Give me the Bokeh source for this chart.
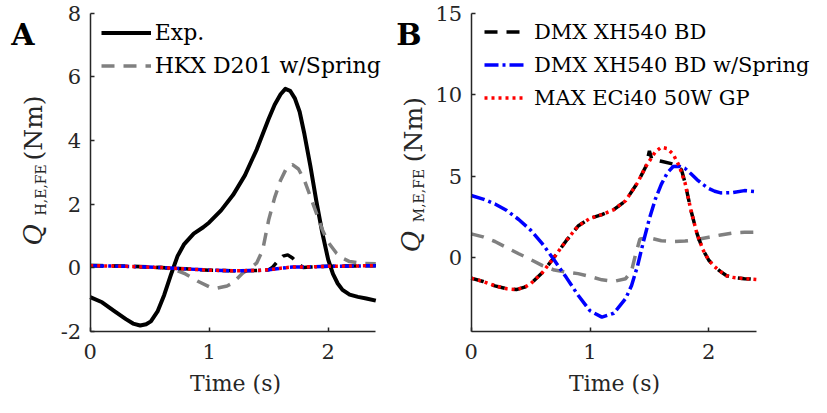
from math import pi
from bokeh.plotting import figure
from bokeh.models import Range1d, FixedTicker, Label, Legend, LegendItem
from bokeh.layouts import row
from bokeh.embed import file_html
from bokeh.resources import INLINE

FONT = "DejaVu Serif"
AX = "#262626"

# ---------------- Panel A data (human torque, Nm) ----------------
t_exp = [0, 0.1, 0.2, 0.3, 0.36, 0.42, 0.47, 0.51, 0.566, 0.622, 0.678, 0.734,
         0.79, 0.87, 0.95, 1.0, 1.1, 1.2, 1.3, 1.4, 1.5, 1.55, 1.6, 1.64, 1.68,
         1.72, 1.76, 1.8, 1.85, 1.9, 1.95, 2.0, 2.04, 2.08, 2.12, 2.18, 2.25,
         2.32, 2.4]
exp_a = [-0.93, -1.09, -1.36, -1.62, -1.76, -1.82, -1.78, -1.69, -1.38, -0.86,
         -0.23, 0.36, 0.74, 1.07, 1.27, 1.42, 1.8, 2.28, 2.9, 3.72, 4.68, 5.12,
         5.45, 5.62, 5.56, 5.32, 4.9, 4.2, 3.2, 2.1, 1.1, 0.25, -0.2, -0.5,
         -0.7, -0.85, -0.92, -0.97, -1.04]

t_hkx_a = [0, 0.2, 0.4, 0.6, 0.7, 0.8, 0.9, 1.0, 1.06, 1.15, 1.2, 1.28, 1.35,
           1.4, 1.45, 1.5, 1.55, 1.6, 1.65, 1.7, 1.75, 1.8, 1.87, 1.95, 2.0,
           2.07, 2.12, 2.18, 2.3, 2.4]
hkx_a = [0.08, 0.06, 0.04, 0.0, -0.05, -0.2, -0.42, -0.6, -0.65, -0.58, -0.48,
         -0.18, 0.0, 0.15, 0.56, 1.5, 2.2, 2.75, 3.13, 3.24, 3.1, 2.75, 2.03,
         1.2, 0.8, 0.45, 0.3, 0.19, 0.13, 0.12]

t_mot_a = [0, 0.3, 0.6, 0.8, 1.0, 1.2, 1.4, 1.5, 1.6, 1.7, 1.8, 2.0, 2.2, 2.4]
dmxs_a = [0.06, 0.04, 0.0, -0.04, -0.08, -0.1, -0.09, -0.07, -0.02, 0.02,
          0.02, 0.04, 0.05, 0.06]
max_a = [0.06, 0.04, 0.0, -0.04, -0.08, -0.1, -0.09, -0.07, -0.02, 0.02,
         0.02, 0.04, 0.05, 0.06]

t_dmx_a = [0, 0.3, 0.6, 0.8, 1.0, 1.2, 1.4, 1.5, 1.53, 1.58, 1.62, 1.66, 1.7,
           1.74, 1.79, 1.85, 2.0, 2.2, 2.4]
dmx_a = [0.06, 0.04, 0.0, -0.04, -0.08, -0.1, -0.09, -0.07, 0.0, 0.22, 0.36,
         0.4, 0.3, 0.15, 0.0, 0.02, 0.04, 0.05, 0.06]

# ---------------- Panel B data (motor torque, Nm) ----------------
t_hkx_b = [0, 0.1, 0.2, 0.3, 0.4, 0.5, 0.6, 0.7, 0.8, 0.9, 1.0, 1.1, 1.2, 1.3,
           1.35, 1.38, 1.42, 1.5, 1.6, 1.7, 1.8, 1.9, 2.0, 2.1, 2.2, 2.3, 2.4]
hkx_b = [1.47, 1.28, 1.0, 0.62, 0.25, -0.1, -0.48, -0.75, -0.87, -0.97, -1.15,
         -1.35, -1.45, -1.28, -0.8, 0.1, 1.15, 1.22, 1.05, 1.0, 1.03, 1.12,
         1.26, 1.4, 1.52, 1.56, 1.57]

t_dmxs_b = [0, 0.1, 0.2, 0.3, 0.4, 0.5, 0.6, 0.7, 0.8, 0.9, 1.0, 1.1, 1.2, 1.3,
            1.35, 1.4, 1.45, 1.5, 1.55, 1.6, 1.65, 1.7, 1.75, 1.8, 1.85, 1.9,
            1.95, 2.0, 2.05, 2.1, 2.2, 2.3, 2.4]
dmxs_b = [3.82, 3.6, 3.3, 2.9, 2.35, 1.7, 0.85, -0.15, -1.2, -2.3, -3.25,
          -3.64, -3.4, -2.5, -1.7, -0.5, 1.0, 2.4, 3.6, 4.5, 5.2, 5.6, 5.62,
          5.48, 5.15, 4.8, 4.5, 4.25, 4.08, 3.98, 4.0, 4.12, 4.05]

t_max_b = [0, 0.1, 0.2, 0.3, 0.38, 0.45, 0.5, 0.6, 0.7, 0.8, 0.9, 1.0, 1.1,
           1.2, 1.3, 1.4, 1.47, 1.55, 1.6, 1.65, 1.7, 1.75, 1.8, 1.85, 1.9,
           1.95, 2.0, 2.05, 2.1, 2.15, 2.2, 2.3, 2.4]
max_b = [-1.25, -1.45, -1.72, -1.9, -1.95, -1.8, -1.6, -0.9, 0.05, 1.05, 1.95,
         2.42, 2.65, 2.95, 3.5, 4.6, 5.6, 6.5, 6.78, 6.7, 6.35, 5.65, 4.6,
         2.9, 1.5, 0.5, -0.15, -0.55, -0.85, -1.1, -1.2, -1.28, -1.33]

t_dmx_b = [0, 0.1, 0.2, 0.3, 0.38, 0.45, 0.5, 0.6, 0.7, 0.8, 0.9, 1.0, 1.1,
           1.2, 1.3, 1.4, 1.47, 1.5, 1.52, 1.6, 1.7, 1.77, 1.8, 1.85, 1.9,
           1.95, 2.0, 2.05, 2.1, 2.15, 2.2, 2.3, 2.4]
dmx_b = [-1.25, -1.45, -1.72, -1.9, -1.95, -1.8, -1.6, -0.9, 0.05, 1.05, 1.95,
         2.42, 2.65, 2.95, 3.5, 4.6, 5.6, 6.55, 6.05, 5.92, 5.75, 5.4, 4.6,
         2.9, 1.5, 0.5, -0.15, -0.55, -0.85, -1.1, -1.2, -1.28, -1.33]

x_ticks = [0, 1, 2]
x_lim = (0, 2.4)
y_ticks_a = [-2, 0, 2, 4, 6, 8]
y_tick_labels_a = {-2: "-2"}
y_lim_a = (-2, 8)
y_ticks_b = [0, 5, 10, 15]
y_lim_b = (-4.5, 15)

GRAY = "#808080"
BLUE = "#0000FF"
RED = "#FF0000"
DASH = "13 9"
DASHDOT = "14 4 3 4"
DOT = "3 4"

H = 397
W_A = 386
W_B = 425
LEFT_REF = 1      # reference-pixel column shown at the left of figure A
TOP_REF = 5       # reference-pixel row shown at the top of the figures


class Panel:
    """Linear mapping between reference pixel positions and data values."""

    def __init__(self, px_t0, px_t2, py_a, v_a, py_b, v_b, left_ref, width):
        self.kx = (px_t2 - px_t0) / 2.0
        self.px_t0 = px_t0
        self.ky = (py_b - py_a) / (v_b - v_a)
        self.py_a, self.v_a = py_a, v_a
        self.left_ref, self.width = left_ref, width

    def X(self, px):
        return (px - self.px_t0) / self.kx

    def Y(self, py):
        return self.v_a + (py - self.py_a) / self.ky

    def figure(self, ylim, yticks):
        p = figure(output_backend="svg", toolbar_location=None,
                   width=self.width, height=H,
                   x_range=Range1d(self.X(self.left_ref), self.X(self.left_ref + self.width)),
                   y_range=Range1d(self.Y(TOP_REF + H), self.Y(TOP_REF)),
                   min_border=0, min_border_left=0, min_border_right=0,
                   min_border_top=0, min_border_bottom=0,
                   background_fill_color="white", border_fill_color="white",
                   outline_line_color=None)
        p.grid.visible = False
        for ax in (p.xaxis[0], p.yaxis[0]):
            ax.axis_line_color = AX
            ax.axis_line_width = 1.5
            ax.major_tick_line_color = AX
            ax.major_tick_line_width = 1.5
            ax.major_tick_in = 4
            ax.major_tick_out = 0
            ax.minor_tick_line_color = None
            ax.major_label_text_font = FONT
            ax.major_label_text_font_size = "21px"
            ax.major_label_text_color = AX
        p.xaxis[0].ticker = FixedTicker(ticks=x_ticks)
        p.yaxis[0].ticker = FixedTicker(ticks=yticks)
        p.xaxis[0].fixed_location = ylim[0]
        p.yaxis[0].fixed_location = x_lim[0]
        p.xaxis[0].bounds = x_lim
        p.yaxis[0].bounds = ylim
        p.yaxis[0].major_label_standoff = 9
        p.xaxis[0].major_label_standoff = 13
        return p

    def text(self, p, px, py, txt, size, style="normal", angle=0.0,
             align="left", color=AX):
        # (px, py): reference pixel of the text start (or centre) and its middle line
        p.add_layout(Label(x=self.X(px), y=self.Y(py), text=txt,
                           text_font=FONT, text_font_style=style,
                           text_font_size=size, text_color=color,
                           angle=angle, text_align=align,
                           text_baseline="middle"))


def style_legend(leg, gw, st, fs):
    leg.label_text_font = FONT
    leg.label_text_font_size = fs
    leg.label_text_color = "black"
    leg.glyph_width = gw
    leg.glyph_height = 33
    leg.label_height = 33
    leg.label_standoff = st
    leg.spacing = 0
    leg.padding = 0
    leg.margin = 0
    leg.border_line_color = None
    leg.background_fill_alpha = 0


# ---------------- Panel A ----------------
A = Panel(90.7, 328.7, 335.7, -2, 17.7, 8, LEFT_REF, W_A)
pa = A.figure(y_lim_a, y_ticks_a)
pa.yaxis[0].major_label_overrides = y_tick_labels_a
r_exp = pa.line(t_exp, exp_a, line_color="black", line_width=4, line_join="round")
r_hkx = pa.line(t_hkx_a, hkx_a, line_color=GRAY, line_width=3.5, line_dash=DASH)
pa.line(t_dmx_a, dmx_a, line_color="black", line_width=3.5, line_dash=DASH)
pa.line(t_mot_a, dmxs_a, line_color=BLUE, line_width=3.5, line_dash=DASHDOT)
pa.line(t_mot_a, max_a, line_color=RED, line_width=3.5, line_dash=DOT)

A.text(pa, 236, 388, "Time (s)", "22px", align="center")
A.text(pa, 33.3, 250, "Q", "26px", style="italic", angle=pi / 2)
A.text(pa, 41.7, 220, "H,E,FE", "14px", angle=pi / 2)
A.text(pa, 34.2, 165, "(Nm)", "25px", angle=pi / 2)
A.text(pa, 11.7, 39, "A", "30px", style="bold", color="black")

leg_a = Legend(items=[LegendItem(label="Exp.", renderers=[r_exp]),
                      LegendItem(label="HKX D201 w/Spring", renderers=[r_hkx])],
               location=(101.7 - LEFT_REF, H - (86.7 - TOP_REF)))
style_legend(leg_a, 50, 4, "22px")
pa.add_layout(leg_a)

# ---------------- Panel B ----------------
B_LEFT = LEFT_REF + W_A
B = Panel(471.7, 709.3, 262.3, 0, 17.7, 15, B_LEFT, W_B)
pb = B.figure(y_lim_b, y_ticks_b)
pb.line(t_hkx_b, hkx_b, line_color=GRAY, line_width=3.5, line_dash=DASH)
r_dmx = pb.line(t_dmx_b, dmx_b, line_color="black", line_width=3.5, line_dash=DASH)
r_dmxs = pb.line(t_dmxs_b, dmxs_b, line_color=BLUE, line_width=3.5, line_dash=DASHDOT)
r_max = pb.line(t_max_b, max_b, line_color=RED, line_width=3.5, line_dash=DOT)

B.text(pb, 615, 388, "Time (s)", "22px", align="center")
B.text(pb, 411, 256.7, "Q", "26px", style="italic", angle=pi / 2)
B.text(pb, 419.5, 226.7, "M,E,FE", "14px", angle=pi / 2)
B.text(pb, 413.5, 166.7, "(Nm)", "25px", angle=pi / 2)
B.text(pb, 396.7, 39, "B", "30px", style="bold", color="black")

leg_b = Legend(items=[LegendItem(label="DMX XH540 BD", renderers=[r_dmx]),
                      LegendItem(label="DMX XH540 BD w/Spring", renderers=[r_dmxs]),
                      LegendItem(label="MAX ECi40 50W GP", renderers=[r_max])],
               location=(485 - B_LEFT, H - (119 - TOP_REF)))
style_legend(leg_b, 42, 8, "21px")
pb.add_layout(leg_b)

layout = row(pa, pb)
open("out.html", "w").write(file_html(layout, INLINE))
